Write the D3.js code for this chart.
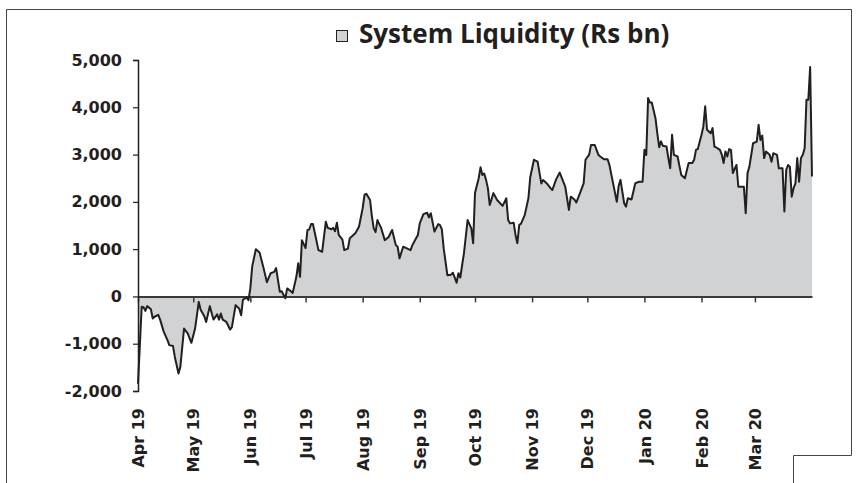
<!DOCTYPE html>
<html>
<head>
<meta charset="utf-8">
<script src="https://cdn.jsdelivr.net/npm/d3@7"></script>
<style>
  body { margin: 0; background: #fff; }
  text { font-family: "DejaVu Sans", sans-serif; font-weight: bold; fill: #231f20; }
</style>
</head>
<body>
<div id="chart"></div>
<script>
// observation dates (Apr 19 - Mar 20)
const dates = [
  "2019-04-01","2019-04-03","2019-04-04","2019-04-05","2019-04-06","2019-04-08","2019-04-09","2019-04-10","2019-04-12","2019-04-13","2019-04-15","2019-04-17","2019-04-18","2019-04-20","2019-04-21","2019-04-23","2019-04-24","2019-04-26","2019-04-28","2019-04-30",
  "2019-05-02","2019-05-04","2019-05-05","2019-05-07","2019-05-08","2019-05-10","2019-05-11","2019-05-12","2019-05-14","2019-05-15","2019-05-16","2019-05-17","2019-05-19","2019-05-21","2019-05-22","2019-05-24","2019-05-26","2019-05-27","2019-05-28","2019-05-30","2019-05-31",
  "2019-06-01","2019-06-02","2019-06-04","2019-06-06","2019-06-08","2019-06-10","2019-06-12","2019-06-14","2019-06-15","2019-06-17","2019-06-18","2019-06-20","2019-06-21","2019-06-23","2019-06-24","2019-06-26","2019-06-27","2019-06-28","2019-06-29",
  "2019-07-01","2019-07-02","2019-07-03","2019-07-04","2019-07-05","2019-07-08","2019-07-10","2019-07-12","2019-07-13","2019-07-15","2019-07-16","2019-07-17","2019-07-18","2019-07-19","2019-07-21","2019-07-22","2019-07-24","2019-07-25","2019-07-28","2019-07-30",
  "2019-08-01","2019-08-02","2019-08-03","2019-08-05","2019-08-06","2019-08-07","2019-08-08","2019-08-09","2019-08-11","2019-08-13","2019-08-15","2019-08-17","2019-08-19","2019-08-20","2019-08-21","2019-08-23","2019-08-25","2019-08-27","2019-08-28","2019-08-30","2019-08-31",
  "2019-09-01","2019-09-03","2019-09-05","2019-09-06","2019-09-07","2019-09-09","2019-09-11","2019-09-12","2019-09-13","2019-09-14","2019-09-16","2019-09-18","2019-09-19","2019-09-20","2019-09-21","2019-09-22","2019-09-23","2019-09-25","2019-09-27","2019-09-29","2019-09-30",
  "2019-10-01","2019-10-03","2019-10-04","2019-10-05","2019-10-06","2019-10-07","2019-10-08","2019-10-09","2019-10-11","2019-10-13","2019-10-16","2019-10-18","2019-10-19","2019-10-20","2019-10-22","2019-10-23","2019-10-24","2019-10-25","2019-10-26","2019-10-28","2019-10-30","2019-10-31",
  "2019-11-02","2019-11-04","2019-11-06","2019-11-07","2019-11-09","2019-11-11","2019-11-12","2019-11-14","2019-11-16","2019-11-19","2019-11-21","2019-11-22","2019-11-24","2019-11-25","2019-11-27","2019-11-29","2019-11-30",
  "2019-12-02","2019-12-03","2019-12-05","2019-12-07","2019-12-08","2019-12-10","2019-12-12","2019-12-13","2019-12-15","2019-12-17","2019-12-18","2019-12-19","2019-12-21","2019-12-22","2019-12-23","2019-12-25","2019-12-27","2019-12-29","2019-12-31",
  "2020-01-01","2020-01-02","2020-01-03","2020-01-04","2020-01-05","2020-01-07","2020-01-08","2020-01-09","2020-01-10","2020-01-11","2020-01-13","2020-01-14","2020-01-15","2020-01-16","2020-01-17","2020-01-19","2020-01-21","2020-01-23","2020-01-25","2020-01-27","2020-01-28","2020-01-29","2020-01-30",
  "2020-02-01","2020-02-02","2020-02-03","2020-02-04","2020-02-06","2020-02-07","2020-02-08","2020-02-09","2020-02-11","2020-02-12","2020-02-13","2020-02-14","2020-02-15","2020-02-16","2020-02-17","2020-02-18","2020-02-20","2020-02-21","2020-02-24","2020-02-25","2020-02-26","2020-02-27","2020-02-29",
  "2020-03-02","2020-03-03","2020-03-04","2020-03-05","2020-03-06","2020-03-07","2020-03-09","2020-03-10","2020-03-11","2020-03-13","2020-03-14","2020-03-16","2020-03-17","2020-03-18","2020-03-19","2020-03-20","2020-03-21","2020-03-22","2020-03-23","2020-03-24","2020-03-25","2020-03-26","2020-03-27","2020-03-28","2020-03-29","2020-03-30","2020-03-31","2020-04-01"
];

// system liquidity, Rs bn
const liquidity = [
  -1850,-220,-230,-305,-205,-270,-466,-430,-390,-490,-750,-925,-1030,-1050,-1280,-1630,-1490,-680,-780,-980,
  -680,-115,-280,-420,-540,-205,-350,-490,-380,-490,-360,-490,-540,-700,-650,-184,-260,-400,-70,-20,-80,
  170,630,1000,930,630,300,490,520,600,100,110,-40,170,110,75,415,700,415,1190,
  1020,1400,1420,1530,1530,980,945,1580,1450,1420,1450,1380,1560,1300,1200,980,1010,1230,1335,1475,
  1865,2150,2170,2040,1700,1440,1360,1615,1450,1190,1250,1405,1085,1050,805,1050,1015,980,1085,1230,1300,
  1545,1740,1770,1670,1760,1370,1530,1510,1420,1015,450,460,500,400,290,490,400,915,1615,1440,1125,
  2185,2500,2730,2570,2600,2465,2290,1935,2185,2040,1915,2075,1615,1545,1560,1300,1125,1510,1540,1720,2075,2520,
  2890,2850,2390,2460,2390,2290,2250,2470,2620,2320,1830,2110,2050,1985,2185,2390,2890,
  3000,3205,3205,2995,2960,2900,2900,2780,2390,2000,2335,2465,1970,1900,2075,2050,2390,2425,2425,
  3100,2990,4195,4100,4100,3770,3450,3155,3280,3185,3170,2925,2710,3420,2995,2960,2570,2500,2820,2820,2890,3100,3120,
  3420,3595,4020,3525,3450,3560,3170,3150,3100,3000,2820,3065,2960,3115,3100,2610,2780,2320,2320,1760,2610,2745,3240,
  3275,3630,3310,3400,2925,3065,2995,2850,3030,2995,2710,2710,1795,2675,2780,2740,2110,2290,2390,2925,2425,2925,2995,3135,4160,4160,4850,2535
];

const monthTicks = ["2019-04-01","2019-05-01","2019-06-01","2019-07-01","2019-08-01","2019-09-01",
  "2019-10-01","2019-11-01","2019-12-01","2020-01-01","2020-02-01","2020-03-01"];
const yTicks = [-2000, -1000, 0, 1000, 2000, 3000, 4000, 5000];

const W = 858, H = 483;
const margin = { top: 60, right: 46, bottom: 92, left: 138 };

const parse = d3.timeParse("%Y-%m-%d");
const data = dates.map((d, i) => ({ date: parse(d), value: liquidity[i] }));

// plain hyphen for negatives, comma thousands
const fmt = d3.formatLocale({ decimal: ".", thousands: ",", grouping: [3], currency: ["", ""], minus: "-" }).format(",");

const svg = d3.select("#chart").append("svg")
  .attr("width", W).attr("height", H);

// outer frame
svg.append("path")
  .attr("d", "M6.5,483 V9.5 H851.5 V455.5 H793.5 V483")
  .attr("fill", "none").attr("stroke", "#444").attr("stroke-width", 1);

const x = d3.scaleTime()
  .domain([parse("2019-04-01"), parse("2020-04-01")])
  .range([margin.left, W - margin.right]);
const y = d3.scaleLinear()
  .domain([-2000, 5000])
  .range([H - margin.bottom, margin.top]);

// shaded area between series and zero
svg.append("path")
  .datum(data)
  .attr("fill", "#d1d2d4")
  .attr("d", d3.area().x(d => x(d.date)).y0(y(0)).y1(d => y(d.value)));

// x axis on the zero line, labels pushed down below the plot
const labelY = 408;
const xAxis = svg.append("g")
  .attr("transform", `translate(0,${y(0)})`)
  .call(d3.axisBottom(x)
    .tickValues(monthTicks.map(parse))
    .tickFormat(d3.timeFormat("%b %y"))
    .tickSize(6).tickSizeOuter(0));
xAxis.select(".domain").attr("stroke", "#3a3a3a").attr("stroke-width", 2);
xAxis.selectAll(".tick line").attr("stroke", "#3a3a3a").attr("stroke-width", 1.5);
xAxis.selectAll(".tick text")
  .attr("x", 0).attr("y", 0).attr("dy", "0.35em")
  .attr("transform", `translate(0,${labelY - y(0)}) rotate(-90)`)
  .style("text-anchor", "end")
  .style("font-size", "16px")
  .style("font-family", "DejaVu Sans")
  .style("font-weight", "bold")
  .attr("fill", "#231f20");

// y axis
const yAxis = svg.append("g")
  .attr("transform", `translate(${margin.left},0)`)
  .call(d3.axisLeft(y)
    .tickValues(yTicks)
    .tickFormat(fmt)
    .tickSize(5).tickPadding(11));
yAxis.select(".domain").attr("stroke", "#231f20").attr("stroke-width", 1.5);
yAxis.selectAll(".tick line").attr("stroke", "#231f20").attr("stroke-width", 1.2);
yAxis.selectAll(".tick text")
  .style("font-size", "16px")
  .style("font-family", "DejaVu Sans")
  .style("font-weight", "bold")
  .attr("fill", "#231f20");

// series line
svg.append("path")
  .datum(data)
  .attr("fill", "none")
  .attr("stroke", "#231f20")
  .attr("stroke-width", 2)
  .attr("stroke-linejoin", "round")
  .attr("d", d3.line().x(d => x(d.date)).y(d => y(d.value)));

// legend / title
svg.append("rect")
  .attr("x", 336.5).attr("y", 30.5).attr("width", 11).attr("height", 11)
  .attr("fill", "#d1d2d4").attr("stroke", "#231f20").attr("stroke-width", 1);
svg.append("text")
  .attr("x", 359).attr("y", 43)
  .style("font-family", "Open Sans")
  .style("font-size", "26px")
  .text("System Liquidity (Rs bn)");
</script>
</body>
</html>
